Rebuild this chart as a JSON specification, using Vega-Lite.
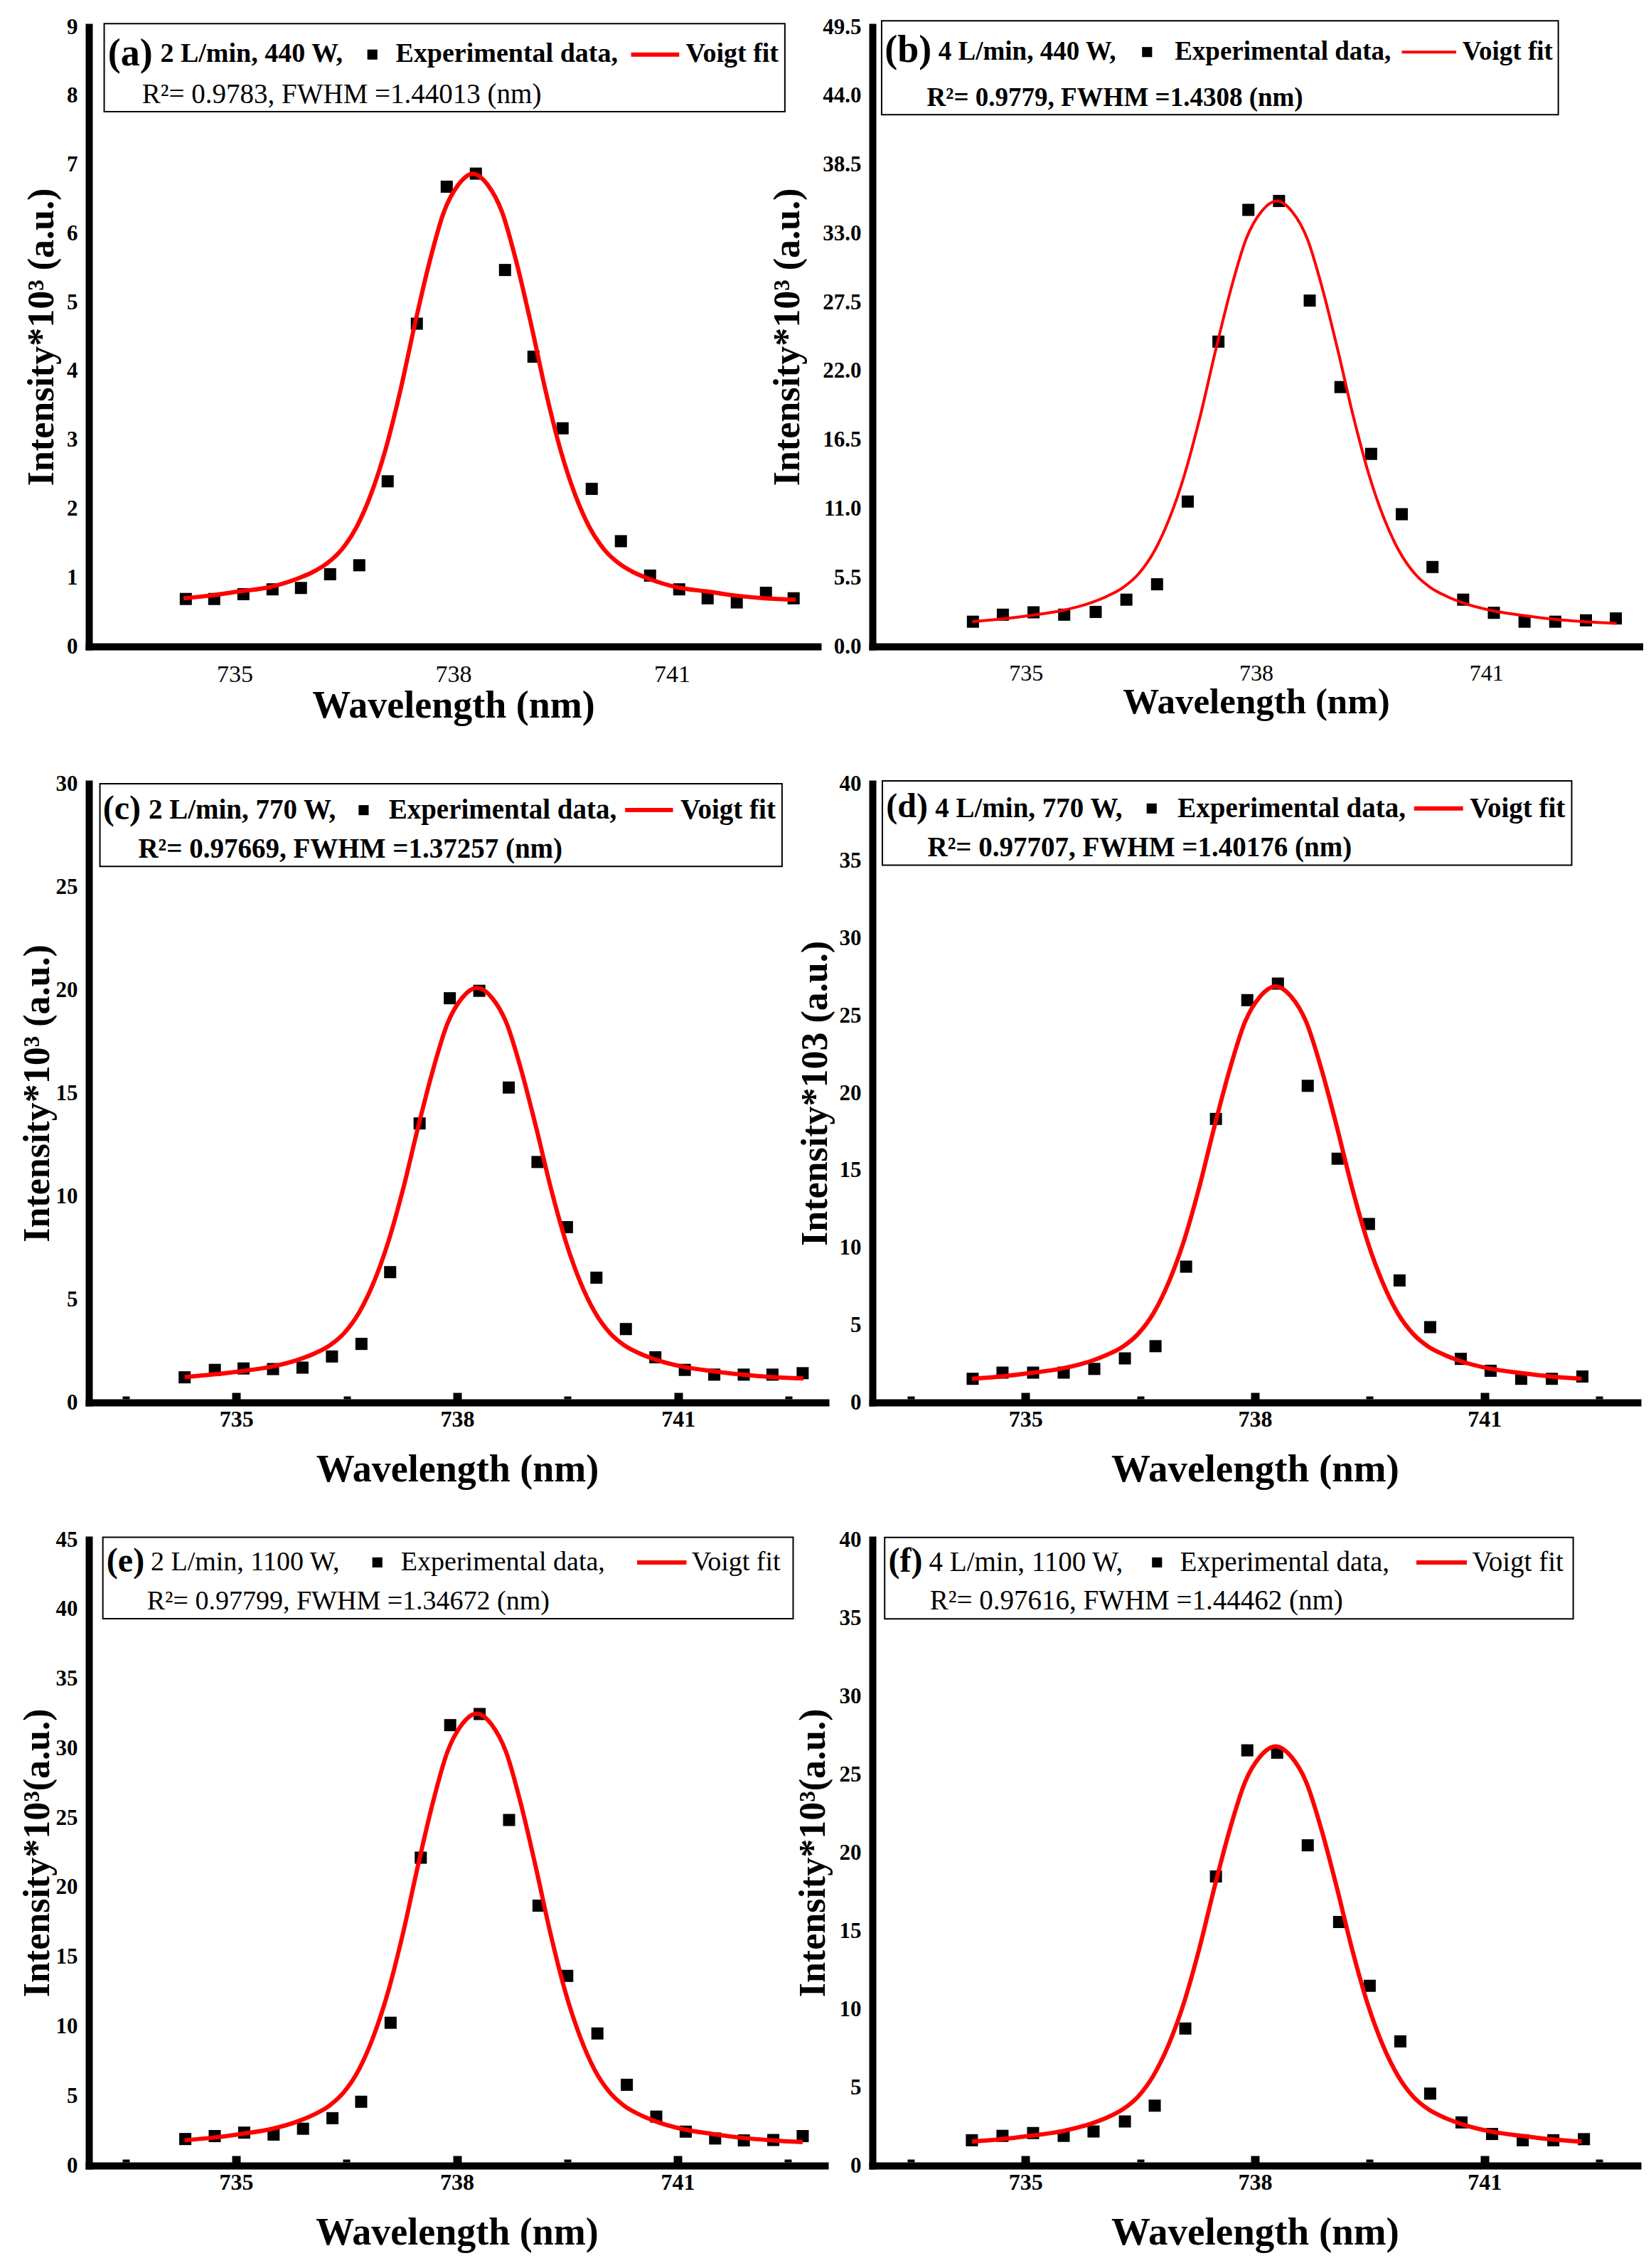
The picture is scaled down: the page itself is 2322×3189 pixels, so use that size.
{
  "$schema": "https://vega.github.io/schema/vega-lite/v6.json",
  "background": "white",
  "padding": {"left": 26, "top": 22, "right": 5, "bottom": 5},
  "config": {
    "view": {"stroke": null},
    "font": "Liberation Serif",
    "text": {"font": "Liberation Serif", "color": "black"},
    "axis": {
      "domainColor": "black", "domainWidth": 10, "domainCap": "square", "grid": false, "ticks": false,
      "labelFont": "Liberation Serif", "labelFontWeight": "bold", "labelColor": "black", "labelOverlap": false,
      "titleFont": "Liberation Serif", "titleFontWeight": "bold", "titleColor": "black"
    }
  },
  "datasets": {
    "box": [
      {"p": "a", "x": 733.21, "x2": 742.55, "y": 7.77, "y2": 9.05},
      {"p": "b", "x": 733.12, "x2": 741.94, "y": 42.5, "y2": 50.0},
      {"p": "c", "x": 733.15, "x2": 742.41, "y": 25.99, "y2": 30.0},
      {"p": "d", "x": 733.13, "x2": 742.14, "y": 34.73, "y2": 40.18},
      {"p": "e", "x": 733.19, "x2": 742.57, "y": 39.33, "y2": 45.18},
      {"p": "f", "x": 733.16, "x2": 742.16, "y": 34.94, "y2": 40.15}
    ],
    "key": [
      {"p": "a", "x": 736.89, "y": 8.6},
      {"p": "b", "x": 736.58, "y": 47.5},
      {"p": "c", "x": 736.73, "y": 28.72},
      {"p": "d", "x": 736.65, "y": 38.4},
      {"p": "e", "x": 736.92, "y": 43.37},
      {"p": "f", "x": 736.72, "y": 38.55}
    ],
    "keyline": [
      {"p": "a", "x": 740.44, "x2": 741.10, "y": 8.6},
      {"p": "b", "x": 739.90, "x2": 740.61, "y": 47.5},
      {"p": "c", "x": 740.28, "x2": 740.93, "y": 28.72},
      {"p": "d", "x": 740.08, "x2": 740.72, "y": 38.4},
      {"p": "e", "x": 740.45, "x2": 741.12, "y": 43.37},
      {"p": "f", "x": 740.11, "x2": 740.77, "y": 38.55}
    ],
    "txt": [
      {"p": "a", "k": "tag", "x": 733.26, "y": 8.61, "t": "(a)"},
      {"p": "a", "k": "head", "x": 733.98, "y": 8.61, "t": "2 L/min, 440 W,"},
      {"p": "a", "k": "head", "x": 737.21, "y": 8.61, "t": "Experimental data,"},
      {"p": "a", "k": "head", "x": 741.19, "y": 8.61, "t": "Voigt fit"},
      {"p": "a", "k": "body", "x": 733.73, "y": 8.02, "t": "R²= 0.9783, FWHM =1.44013 (nm)"},
      {"p": "b", "k": "tag", "x": 733.16, "y": 47.6, "t": "(b)"},
      {"p": "b", "k": "head", "x": 733.86, "y": 47.5, "t": "4 L/min, 440 W,"},
      {"p": "b", "k": "head", "x": 736.94, "y": 47.5, "t": "Experimental data,"},
      {"p": "b", "k": "head", "x": 740.69, "y": 47.5, "t": "Voigt fit"},
      {"p": "b", "k": "body", "x": 733.71, "y": 43.8, "t": "R²= 0.9779, FWHM =1.4308 (nm)"},
      {"p": "c", "k": "tag", "x": 733.19, "y": 28.76, "t": "(c)"},
      {"p": "c", "k": "head", "x": 733.81, "y": 28.72, "t": "2 L/min, 770 W,"},
      {"p": "c", "k": "head", "x": 737.07, "y": 28.72, "t": "Experimental data,"},
      {"p": "c", "k": "head", "x": 741.03, "y": 28.72, "t": "Voigt fit"},
      {"p": "c", "k": "body", "x": 733.67, "y": 26.84, "t": "R²= 0.97669, FWHM =1.37257 (nm)"},
      {"p": "d", "k": "tag", "x": 733.18, "y": 38.46, "t": "(d)"},
      {"p": "d", "k": "head", "x": 733.82, "y": 38.4, "t": "4 L/min, 770 W,"},
      {"p": "d", "k": "head", "x": 736.99, "y": 38.4, "t": "Experimental data,"},
      {"p": "d", "k": "head", "x": 740.81, "y": 38.4, "t": "Voigt fit"},
      {"p": "d", "k": "body", "x": 733.72, "y": 35.86, "t": "R²= 0.97707, FWHM =1.40176 (nm)"},
      {"p": "e", "k": "tag", "x": 733.24, "y": 43.44, "t": "(e)"},
      {"p": "e", "k": "head", "x": 733.84, "y": 43.37, "t": "2 L/min, 1100 W,"},
      {"p": "e", "k": "head", "x": 737.24, "y": 43.37, "t": "Experimental data,"},
      {"p": "e", "k": "head", "x": 741.19, "y": 43.37, "t": "Voigt fit"},
      {"p": "e", "k": "body", "x": 733.79, "y": 40.55, "t": "R²= 0.97799, FWHM =1.34672 (nm)"},
      {"p": "f", "k": "tag", "x": 733.21, "y": 38.61, "t": "(f)"},
      {"p": "f", "k": "head", "x": 733.74, "y": 38.55, "t": "4 L/min, 1100 W,"},
      {"p": "f", "k": "head", "x": 737.02, "y": 38.55, "t": "Experimental data,"},
      {"p": "f", "k": "head", "x": 740.84, "y": 38.55, "t": "Voigt fit"},
      {"p": "f", "k": "body", "x": 733.75, "y": 36.07, "t": "R²= 0.97616, FWHM =1.44462 (nm)"}
    ],
    "exp": [
      {"p": "a", "x": 734.33, "y": 0.69}, {"p": "a", "x": 734.72, "y": 0.69}, {"p": "a", "x": 735.12, "y": 0.76},
      {"p": "a", "x": 735.52, "y": 0.83}, {"p": "a", "x": 735.91, "y": 0.85}, {"p": "a", "x": 736.31, "y": 1.05},
      {"p": "a", "x": 736.71, "y": 1.18}, {"p": "a", "x": 737.10, "y": 2.40}, {"p": "a", "x": 737.50, "y": 4.69},
      {"p": "a", "x": 737.91, "y": 6.68}, {"p": "a", "x": 738.31, "y": 6.87}, {"p": "a", "x": 738.71, "y": 5.47},
      {"p": "a", "x": 739.10, "y": 4.21}, {"p": "a", "x": 739.50, "y": 3.17}, {"p": "a", "x": 739.90, "y": 2.29},
      {"p": "a", "x": 740.30, "y": 1.53}, {"p": "a", "x": 740.70, "y": 1.03}, {"p": "a", "x": 741.10, "y": 0.83},
      {"p": "a", "x": 741.49, "y": 0.70}, {"p": "a", "x": 741.89, "y": 0.64}, {"p": "a", "x": 742.29, "y": 0.78},
      {"p": "a", "x": 742.67, "y": 0.70},
      {"p": "b", "x": 734.31, "y": 1.98}, {"p": "b", "x": 734.70, "y": 2.54}, {"p": "b", "x": 735.10, "y": 2.73},
      {"p": "b", "x": 735.50, "y": 2.54}, {"p": "b", "x": 735.91, "y": 2.76}, {"p": "b", "x": 736.31, "y": 3.74},
      {"p": "b", "x": 736.71, "y": 4.97}, {"p": "b", "x": 737.11, "y": 11.58}, {"p": "b", "x": 737.51, "y": 24.36},
      {"p": "b", "x": 737.90, "y": 34.89}, {"p": "b", "x": 738.30, "y": 35.6}, {"p": "b", "x": 738.70, "y": 27.64},
      {"p": "b", "x": 739.10, "y": 20.73}, {"p": "b", "x": 739.50, "y": 15.39}, {"p": "b", "x": 739.90, "y": 10.57},
      {"p": "b", "x": 740.30, "y": 6.35}, {"p": "b", "x": 740.70, "y": 3.74}, {"p": "b", "x": 741.10, "y": 2.69},
      {"p": "b", "x": 741.50, "y": 1.98}, {"p": "b", "x": 741.90, "y": 1.98}, {"p": "b", "x": 742.30, "y": 2.09},
      {"p": "b", "x": 742.69, "y": 2.24},
      {"p": "c", "x": 734.30, "y": 1.22}, {"p": "c", "x": 734.71, "y": 1.58}, {"p": "c", "x": 735.10, "y": 1.65},
      {"p": "c", "x": 735.50, "y": 1.62}, {"p": "c", "x": 735.90, "y": 1.69}, {"p": "c", "x": 736.30, "y": 2.23},
      {"p": "c", "x": 736.70, "y": 2.84}, {"p": "c", "x": 737.09, "y": 6.32}, {"p": "c", "x": 737.49, "y": 13.53},
      {"p": "c", "x": 737.90, "y": 19.60}, {"p": "c", "x": 738.30, "y": 19.96}, {"p": "c", "x": 738.70, "y": 15.27},
      {"p": "c", "x": 739.09, "y": 11.66}, {"p": "c", "x": 739.49, "y": 8.50}, {"p": "c", "x": 739.89, "y": 6.05},
      {"p": "c", "x": 740.29, "y": 3.56}, {"p": "c", "x": 740.69, "y": 2.19}, {"p": "c", "x": 741.09, "y": 1.58},
      {"p": "c", "x": 741.49, "y": 1.35}, {"p": "c", "x": 741.89, "y": 1.35}, {"p": "c", "x": 742.28, "y": 1.35},
      {"p": "c", "x": 742.69, "y": 1.42},
      {"p": "d", "x": 734.31, "y": 1.53}, {"p": "d", "x": 734.70, "y": 1.93}, {"p": "d", "x": 735.10, "y": 1.93},
      {"p": "d", "x": 735.50, "y": 1.93}, {"p": "d", "x": 735.90, "y": 2.17}, {"p": "d", "x": 736.30, "y": 2.85},
      {"p": "d", "x": 736.70, "y": 3.64}, {"p": "d", "x": 737.10, "y": 8.78}, {"p": "d", "x": 737.49, "y": 18.33},
      {"p": "d", "x": 737.90, "y": 26.01}, {"p": "d", "x": 738.30, "y": 27.08}, {"p": "d", "x": 738.69, "y": 20.47},
      {"p": "d", "x": 739.08, "y": 15.76}, {"p": "d", "x": 739.49, "y": 11.54}, {"p": "d", "x": 739.89, "y": 7.89},
      {"p": "d", "x": 740.29, "y": 4.87}, {"p": "d", "x": 740.69, "y": 2.82}, {"p": "d", "x": 741.08, "y": 2.05},
      {"p": "d", "x": 741.48, "y": 1.53}, {"p": "d", "x": 741.88, "y": 1.53}, {"p": "d", "x": 742.28, "y": 1.68},
      {"p": "e", "x": 734.31, "y": 1.91}, {"p": "e", "x": 734.71, "y": 2.12}, {"p": "e", "x": 735.11, "y": 2.37},
      {"p": "e", "x": 735.51, "y": 2.23}, {"p": "e", "x": 735.91, "y": 2.65}, {"p": "e", "x": 736.31, "y": 3.41},
      {"p": "e", "x": 736.70, "y": 4.59}, {"p": "e", "x": 737.10, "y": 10.27}, {"p": "e", "x": 737.51, "y": 22.14},
      {"p": "e", "x": 737.91, "y": 31.67}, {"p": "e", "x": 738.31, "y": 32.47}, {"p": "e", "x": 738.71, "y": 24.85},
      {"p": "e", "x": 739.11, "y": 18.69}, {"p": "e", "x": 739.50, "y": 13.64}, {"p": "e", "x": 739.91, "y": 9.50},
      {"p": "e", "x": 740.31, "y": 5.81}, {"p": "e", "x": 740.71, "y": 3.52}, {"p": "e", "x": 741.11, "y": 2.44},
      {"p": "e", "x": 741.51, "y": 1.95}, {"p": "e", "x": 741.90, "y": 1.81}, {"p": "e", "x": 742.30, "y": 1.84},
      {"p": "e", "x": 742.70, "y": 2.12},
      {"p": "f", "x": 734.30, "y": 1.62}, {"p": "f", "x": 734.70, "y": 1.90}, {"p": "f", "x": 735.10, "y": 2.08},
      {"p": "f", "x": 735.50, "y": 1.90}, {"p": "f", "x": 735.89, "y": 2.18}, {"p": "f", "x": 736.30, "y": 2.82},
      {"p": "f", "x": 736.69, "y": 3.83}, {"p": "f", "x": 737.09, "y": 8.76}, {"p": "f", "x": 737.49, "y": 18.48},
      {"p": "f", "x": 737.90, "y": 26.54}, {"p": "f", "x": 738.29, "y": 26.39}, {"p": "f", "x": 738.69, "y": 20.47},
      {"p": "f", "x": 739.10, "y": 15.57}, {"p": "f", "x": 739.50, "y": 11.49}, {"p": "f", "x": 739.90, "y": 7.94},
      {"p": "f", "x": 740.29, "y": 4.60}, {"p": "f", "x": 740.70, "y": 2.76}, {"p": "f", "x": 741.10, "y": 2.02},
      {"p": "f", "x": 741.50, "y": 1.62}, {"p": "f", "x": 741.90, "y": 1.62}, {"p": "f", "x": 742.30, "y": 1.69}
    ],
    "fit": [
      {"p": "a", "x": 734.3, "y": 0.70}, {"p": "a", "x": 734.67, "y": 0.74}, {"p": "a", "x": 735.07, "y": 0.80},
      {"p": "a", "x": 735.47, "y": 0.86}, {"p": "a", "x": 735.87, "y": 0.99}, {"p": "a", "x": 736.07, "y": 1.08},
      {"p": "a", "x": 736.27, "y": 1.21}, {"p": "a", "x": 736.47, "y": 1.41}, {"p": "a", "x": 736.67, "y": 1.73},
      {"p": "a", "x": 736.87, "y": 2.21}, {"p": "a", "x": 737.07, "y": 2.86}, {"p": "a", "x": 737.27, "y": 3.70},
      {"p": "a", "x": 737.47, "y": 4.67}, {"p": "a", "x": 737.67, "y": 5.57}, {"p": "a", "x": 737.87, "y": 6.31},
      {"p": "a", "x": 738.07, "y": 6.71}, {"p": "a", "x": 738.27, "y": 6.87}, {"p": "a", "x": 738.47, "y": 6.71},
      {"p": "a", "x": 738.67, "y": 6.31}, {"p": "a", "x": 738.87, "y": 5.57}, {"p": "a", "x": 739.07, "y": 4.67},
      {"p": "a", "x": 739.27, "y": 3.70}, {"p": "a", "x": 739.47, "y": 2.86}, {"p": "a", "x": 739.67, "y": 2.21},
      {"p": "a", "x": 739.87, "y": 1.73}, {"p": "a", "x": 740.07, "y": 1.41}, {"p": "a", "x": 740.27, "y": 1.21},
      {"p": "a", "x": 740.47, "y": 1.08}, {"p": "a", "x": 740.67, "y": 0.99}, {"p": "a", "x": 741.07, "y": 0.86},
      {"p": "a", "x": 741.47, "y": 0.80}, {"p": "a", "x": 741.87, "y": 0.74}, {"p": "a", "x": 742.27, "y": 0.70},
      {"p": "a", "x": 742.7, "y": 0.68},
      {"p": "b", "x": 734.3, "y": 1.99}, {"p": "b", "x": 734.67, "y": 2.19}, {"p": "b", "x": 735.07, "y": 2.49},
      {"p": "b", "x": 735.47, "y": 2.87}, {"p": "b", "x": 735.87, "y": 3.54}, {"p": "b", "x": 736.07, "y": 4.05},
      {"p": "b", "x": 736.27, "y": 4.73}, {"p": "b", "x": 736.47, "y": 5.81}, {"p": "b", "x": 736.67, "y": 7.57},
      {"p": "b", "x": 736.87, "y": 10.21}, {"p": "b", "x": 737.07, "y": 13.77}, {"p": "b", "x": 737.27, "y": 18.34},
      {"p": "b", "x": 737.47, "y": 23.58}, {"p": "b", "x": 737.67, "y": 28.49}, {"p": "b", "x": 737.87, "y": 32.55},
      {"p": "b", "x": 738.07, "y": 34.75}, {"p": "b", "x": 738.27, "y": 35.6}, {"p": "b", "x": 738.47, "y": 34.75},
      {"p": "b", "x": 738.67, "y": 32.55}, {"p": "b", "x": 738.87, "y": 28.49}, {"p": "b", "x": 739.07, "y": 23.58},
      {"p": "b", "x": 739.27, "y": 18.34}, {"p": "b", "x": 739.47, "y": 13.77}, {"p": "b", "x": 739.67, "y": 10.21},
      {"p": "b", "x": 739.87, "y": 7.57}, {"p": "b", "x": 740.07, "y": 5.81}, {"p": "b", "x": 740.27, "y": 4.73},
      {"p": "b", "x": 740.47, "y": 4.05}, {"p": "b", "x": 740.67, "y": 3.54}, {"p": "b", "x": 741.07, "y": 2.87},
      {"p": "b", "x": 741.47, "y": 2.49}, {"p": "b", "x": 741.87, "y": 2.19}, {"p": "b", "x": 742.27, "y": 1.99},
      {"p": "b", "x": 742.7, "y": 1.85},
      {"p": "c", "x": 734.3, "y": 1.23}, {"p": "c", "x": 734.67, "y": 1.35}, {"p": "c", "x": 735.07, "y": 1.52},
      {"p": "c", "x": 735.47, "y": 1.73}, {"p": "c", "x": 735.87, "y": 2.11}, {"p": "c", "x": 736.07, "y": 2.39},
      {"p": "c", "x": 736.27, "y": 2.77}, {"p": "c", "x": 736.47, "y": 3.38}, {"p": "c", "x": 736.67, "y": 4.37},
      {"p": "c", "x": 736.87, "y": 5.85}, {"p": "c", "x": 737.07, "y": 7.85}, {"p": "c", "x": 737.27, "y": 10.41},
      {"p": "c", "x": 737.47, "y": 13.36}, {"p": "c", "x": 737.67, "y": 16.11}, {"p": "c", "x": 737.87, "y": 18.39},
      {"p": "c", "x": 738.07, "y": 19.63}, {"p": "c", "x": 738.27, "y": 20.1}, {"p": "c", "x": 738.47, "y": 19.63},
      {"p": "c", "x": 738.67, "y": 18.39}, {"p": "c", "x": 738.87, "y": 16.11}, {"p": "c", "x": 739.07, "y": 13.36},
      {"p": "c", "x": 739.27, "y": 10.41}, {"p": "c", "x": 739.47, "y": 7.85}, {"p": "c", "x": 739.67, "y": 5.85},
      {"p": "c", "x": 739.87, "y": 4.37}, {"p": "c", "x": 740.07, "y": 3.38}, {"p": "c", "x": 740.27, "y": 2.77},
      {"p": "c", "x": 740.47, "y": 2.39}, {"p": "c", "x": 740.67, "y": 2.11}, {"p": "c", "x": 741.07, "y": 1.73},
      {"p": "c", "x": 741.47, "y": 1.52}, {"p": "c", "x": 741.87, "y": 1.35}, {"p": "c", "x": 742.27, "y": 1.23},
      {"p": "c", "x": 742.7, "y": 1.16},
      {"p": "d", "x": 734.3, "y": 1.53}, {"p": "d", "x": 734.67, "y": 1.68}, {"p": "d", "x": 735.07, "y": 1.91},
      {"p": "d", "x": 735.47, "y": 2.19}, {"p": "d", "x": 735.87, "y": 2.70}, {"p": "d", "x": 736.07, "y": 3.09},
      {"p": "d", "x": 736.27, "y": 3.60}, {"p": "d", "x": 736.47, "y": 4.42}, {"p": "d", "x": 736.67, "y": 5.74},
      {"p": "d", "x": 736.87, "y": 7.74}, {"p": "d", "x": 737.07, "y": 10.42}, {"p": "d", "x": 737.27, "y": 13.87},
      {"p": "d", "x": 737.47, "y": 17.83}, {"p": "d", "x": 737.67, "y": 21.53}, {"p": "d", "x": 737.87, "y": 24.60},
      {"p": "d", "x": 738.07, "y": 26.26}, {"p": "d", "x": 738.27, "y": 26.9}, {"p": "d", "x": 738.47, "y": 26.26},
      {"p": "d", "x": 738.67, "y": 24.60}, {"p": "d", "x": 738.87, "y": 21.53}, {"p": "d", "x": 739.07, "y": 17.83},
      {"p": "d", "x": 739.27, "y": 13.87}, {"p": "d", "x": 739.47, "y": 10.42}, {"p": "d", "x": 739.67, "y": 7.74},
      {"p": "d", "x": 739.87, "y": 5.74}, {"p": "d", "x": 740.07, "y": 4.42}, {"p": "d", "x": 740.27, "y": 3.60},
      {"p": "d", "x": 740.47, "y": 3.09}, {"p": "d", "x": 740.67, "y": 2.70}, {"p": "d", "x": 741.07, "y": 2.19},
      {"p": "d", "x": 741.47, "y": 1.91}, {"p": "d", "x": 741.87, "y": 1.68}, {"p": "d", "x": 742.27, "y": 1.53},
      {"p": "e", "x": 734.3, "y": 1.82}, {"p": "e", "x": 734.67, "y": 2.00}, {"p": "e", "x": 735.07, "y": 2.28},
      {"p": "e", "x": 735.47, "y": 2.62}, {"p": "e", "x": 735.87, "y": 3.24}, {"p": "e", "x": 736.07, "y": 3.70},
      {"p": "e", "x": 736.27, "y": 4.32}, {"p": "e", "x": 736.47, "y": 5.31}, {"p": "e", "x": 736.67, "y": 6.91},
      {"p": "e", "x": 736.87, "y": 9.33}, {"p": "e", "x": 737.07, "y": 12.57}, {"p": "e", "x": 737.27, "y": 16.74},
      {"p": "e", "x": 737.47, "y": 21.53}, {"p": "e", "x": 737.67, "y": 26.01}, {"p": "e", "x": 737.87, "y": 29.72},
      {"p": "e", "x": 738.07, "y": 31.73}, {"p": "e", "x": 738.27, "y": 32.5}, {"p": "e", "x": 738.47, "y": 31.73},
      {"p": "e", "x": 738.67, "y": 29.72}, {"p": "e", "x": 738.87, "y": 26.01}, {"p": "e", "x": 739.07, "y": 21.53},
      {"p": "e", "x": 739.27, "y": 16.74}, {"p": "e", "x": 739.47, "y": 12.57}, {"p": "e", "x": 739.67, "y": 9.33},
      {"p": "e", "x": 739.87, "y": 6.91}, {"p": "e", "x": 740.07, "y": 5.31}, {"p": "e", "x": 740.27, "y": 4.32},
      {"p": "e", "x": 740.47, "y": 3.70}, {"p": "e", "x": 740.67, "y": 3.24}, {"p": "e", "x": 741.07, "y": 2.62},
      {"p": "e", "x": 741.47, "y": 2.28}, {"p": "e", "x": 741.87, "y": 2.00}, {"p": "e", "x": 742.27, "y": 1.82},
      {"p": "e", "x": 742.7, "y": 1.69},
      {"p": "f", "x": 734.3, "y": 1.53}, {"p": "f", "x": 734.67, "y": 1.68}, {"p": "f", "x": 735.07, "y": 1.91},
      {"p": "f", "x": 735.47, "y": 2.19}, {"p": "f", "x": 735.87, "y": 2.70}, {"p": "f", "x": 736.07, "y": 3.08},
      {"p": "f", "x": 736.27, "y": 3.59}, {"p": "f", "x": 736.47, "y": 4.40}, {"p": "f", "x": 736.67, "y": 5.73},
      {"p": "f", "x": 736.87, "y": 7.71}, {"p": "f", "x": 737.07, "y": 10.38}, {"p": "f", "x": 737.27, "y": 13.82},
      {"p": "f", "x": 737.47, "y": 17.77}, {"p": "f", "x": 737.67, "y": 21.46}, {"p": "f", "x": 737.87, "y": 24.51},
      {"p": "f", "x": 738.07, "y": 26.16}, {"p": "f", "x": 738.27, "y": 26.8}, {"p": "f", "x": 738.47, "y": 26.16},
      {"p": "f", "x": 738.67, "y": 24.51}, {"p": "f", "x": 738.87, "y": 21.46}, {"p": "f", "x": 739.07, "y": 17.77},
      {"p": "f", "x": 739.27, "y": 13.82}, {"p": "f", "x": 739.47, "y": 10.38}, {"p": "f", "x": 739.67, "y": 7.71},
      {"p": "f", "x": 739.87, "y": 5.73}, {"p": "f", "x": 740.07, "y": 4.40}, {"p": "f", "x": 740.27, "y": 3.59},
      {"p": "f", "x": 740.47, "y": 3.08}, {"p": "f", "x": 740.67, "y": 2.70}, {"p": "f", "x": 741.07, "y": 2.19},
      {"p": "f", "x": 741.47, "y": 1.91}, {"p": "f", "x": 741.87, "y": 1.68}, {"p": "f", "x": 742.27, "y": 1.53}
    ]
  },
  "columns": 2,
  "spacing": {"row": 193, "column": 66},
  "bounds": "flush",
  "concat": [
    {
      "width": 1025, "height": 871,
      "layer": [
        {"data": {"name": "box"}, "transform": [{"filter": "datum.p === 'a'"}],
         "mark": {"type": "rect", "fill": "white", "stroke": "black", "strokeWidth": 2},
         "encoding": {
           "x": {"field": "x", "type": "quantitative", "scale": {"domain": [733, 743], "nice": false, "zero": false},
                 "axis": {"title": "Wavelength (nm)", "values": [735, 738, 741], "format": "d", "labelFontSize": 34, "labelFontWeight": "normal", "labelPadding": 22, "titleFontSize": 54, "titlePadding": 0}},
           "x2": {"field": "x2"},
           "y": {"field": "y", "type": "quantitative", "scale": {"domain": [0, 9], "nice": false, "zero": false},
                 "axis": {"title": "Intensity*10³ (a.u.)", "values": [0, 1, 2, 3, 4, 5, 6, 7, 8, 9], "format": "d", "labelFontSize": 31, "labelPadding": 16, "titleFontSize": 52, "titlePadding": 8}},
           "y2": {"field": "y2"}}},
        {"data": {"name": "exp"}, "transform": [{"filter": "datum.p === 'a'"}],
         "mark": {"type": "point", "shape": "square", "filled": true, "color": "black", "opacity": 1, "size": 290},
         "encoding": {"x": {"field": "x", "type": "quantitative"}, "y": {"field": "y", "type": "quantitative"}}},
        {"data": {"name": "fit"}, "transform": [{"filter": "datum.p === 'a'"}],
         "mark": {"type": "line", "color": "red", "strokeWidth": 6, "interpolate": "monotone"},
         "encoding": {"x": {"field": "x", "type": "quantitative"}, "y": {"field": "y", "type": "quantitative"}}},
        {"data": {"name": "txt"}, "transform": [{"filter": "datum.p === 'a' && datum.k === 'tag'"}],
         "mark": {"type": "text", "align": "left", "baseline": "middle", "fontSize": 54, "fontWeight": "bold"},
         "encoding": {"x": {"field": "x", "type": "quantitative"}, "y": {"field": "y", "type": "quantitative"}, "text": {"field": "t"}}},
        {"data": {"name": "txt"}, "transform": [{"filter": "datum.p === 'a' && datum.k === 'head'"}],
         "mark": {"type": "text", "align": "left", "baseline": "middle", "fontSize": 38, "fontWeight": "bold"},
         "encoding": {"x": {"field": "x", "type": "quantitative"}, "y": {"field": "y", "type": "quantitative"}, "text": {"field": "t"}}},
        {"data": {"name": "txt"}, "transform": [{"filter": "datum.p === 'a' && datum.k === 'body'"}],
         "mark": {"type": "text", "align": "left", "baseline": "middle", "fontSize": 39, "fontWeight": "normal"},
         "encoding": {"x": {"field": "x", "type": "quantitative"}, "y": {"field": "y", "type": "quantitative"}, "text": {"field": "t"}}},
        {"data": {"name": "key"}, "transform": [{"filter": "datum.p === 'a'"}],
         "mark": {"type": "point", "shape": "square", "filled": true, "color": "black", "opacity": 1, "size": 200},
         "encoding": {"x": {"field": "x", "type": "quantitative"}, "y": {"field": "y", "type": "quantitative"}}},
        {"data": {"name": "keyline"}, "transform": [{"filter": "datum.p === 'a'"}],
         "mark": {"type": "rule", "color": "red", "strokeWidth": 6},
         "encoding": {"x": {"field": "x", "type": "quantitative"}, "x2": {"field": "x2"}, "y": {"field": "y", "type": "quantitative"}}}
      ]
    },
    {
      "width": 1079, "height": 871,
      "layer": [
        {"data": {"name": "box"}, "transform": [{"filter": "datum.p === 'b'"}],
         "mark": {"type": "rect", "fill": "white", "stroke": "black", "strokeWidth": 2},
         "encoding": {
           "x": {"field": "x", "type": "quantitative", "scale": {"domain": [733, 743], "nice": false, "zero": false},
                 "axis": {"title": "Wavelength (nm)", "values": [735, 738, 741], "format": "d", "labelFontSize": 32, "labelFontWeight": "normal", "labelPadding": 22, "titleFontSize": 51, "titlePadding": 0}},
           "x2": {"field": "x2"},
           "y": {"field": "y", "type": "quantitative", "scale": {"domain": [0, 49.5], "nice": false, "zero": false},
                 "axis": {"title": "Intensity*10³ (a.u.)", "values": [0, 5.5, 11, 16.5, 22, 27.5, 33, 38.5, 44, 49.5], "format": ".1f", "labelFontSize": 31, "labelPadding": 16, "titleFontSize": 52, "titlePadding": 22}},
           "y2": {"field": "y2"}}},
        {"data": {"name": "exp"}, "transform": [{"filter": "datum.p === 'b'"}],
         "mark": {"type": "point", "shape": "square", "filled": true, "color": "black", "opacity": 1, "size": 290},
         "encoding": {"x": {"field": "x", "type": "quantitative"}, "y": {"field": "y", "type": "quantitative"}}},
        {"data": {"name": "fit"}, "transform": [{"filter": "datum.p === 'b'"}],
         "mark": {"type": "line", "color": "red", "strokeWidth": 4, "interpolate": "monotone"},
         "encoding": {"x": {"field": "x", "type": "quantitative"}, "y": {"field": "y", "type": "quantitative"}}},
        {"data": {"name": "txt"}, "transform": [{"filter": "datum.p === 'b' && datum.k === 'tag'"}],
         "mark": {"type": "text", "align": "left", "baseline": "middle", "fontSize": 54, "fontWeight": "bold"},
         "encoding": {"x": {"field": "x", "type": "quantitative"}, "y": {"field": "y", "type": "quantitative"}, "text": {"field": "t"}}},
        {"data": {"name": "txt"}, "transform": [{"filter": "datum.p === 'b' && datum.k === 'head'"}],
         "mark": {"type": "text", "align": "left", "baseline": "middle", "fontSize": 37, "fontWeight": "bold"},
         "encoding": {"x": {"field": "x", "type": "quantitative"}, "y": {"field": "y", "type": "quantitative"}, "text": {"field": "t"}}},
        {"data": {"name": "txt"}, "transform": [{"filter": "datum.p === 'b' && datum.k === 'body'"}],
         "mark": {"type": "text", "align": "left", "baseline": "middle", "fontSize": 37, "fontWeight": "bold"},
         "encoding": {"x": {"field": "x", "type": "quantitative"}, "y": {"field": "y", "type": "quantitative"}, "text": {"field": "t"}}},
        {"data": {"name": "key"}, "transform": [{"filter": "datum.p === 'b'"}],
         "mark": {"type": "point", "shape": "square", "filled": true, "color": "black", "opacity": 1, "size": 200},
         "encoding": {"x": {"field": "x", "type": "quantitative"}, "y": {"field": "y", "type": "quantitative"}}},
        {"data": {"name": "keyline"}, "transform": [{"filter": "datum.p === 'b'"}],
         "mark": {"type": "rule", "color": "red", "strokeWidth": 4},
         "encoding": {"x": {"field": "x", "type": "quantitative"}, "x2": {"field": "x2"}, "y": {"field": "y", "type": "quantitative"}}}
      ]
    },
    {
      "width": 1036, "height": 870,
      "layer": [
        {"data": {"name": "box"}, "transform": [{"filter": "datum.p === 'c'"}],
         "mark": {"type": "rect", "fill": "white", "stroke": "black", "strokeWidth": 2},
         "encoding": {
           "x": {"field": "x", "type": "quantitative", "scale": {"domain": [733, 743], "nice": false, "zero": false},
                 "axis": {"title": "Wavelength (nm)", "values": [733.5, 735, 736.5, 738, 739.5, 741, 742.5], "format": "d", "labelExpr": "datum.value % 3 === 0 ? datum.label : ''", "ticks": true, "tickColor": "black", "tickSize": -14, "tickWidth": {"condition": {"test": "datum.value % 3 === 0", "value": 12}, "value": 10}, "tickDash": {"condition": {"test": "datum.value % 3 !== 0", "value": [0, 5, 4, 60]}, "value": [100, 0]}, "labelFontSize": 32, "labelPadding": 22, "titleFontSize": 54, "titlePadding": 28}},
           "x2": {"field": "x2"},
           "y": {"field": "y", "type": "quantitative", "scale": {"domain": [0, 30], "nice": false, "zero": false},
                 "axis": {"title": "Intensity*10³ (a.u.)", "values": [0, 5, 10, 15, 20, 25, 30], "format": "d", "labelFontSize": 31, "labelPadding": 16, "titleFontSize": 52, "titlePadding": -1}},
           "y2": {"field": "y2"}}},
        {"data": {"name": "exp"}, "transform": [{"filter": "datum.p === 'c'"}],
         "mark": {"type": "point", "shape": "square", "filled": true, "color": "black", "opacity": 1, "size": 290},
         "encoding": {"x": {"field": "x", "type": "quantitative"}, "y": {"field": "y", "type": "quantitative"}}},
        {"data": {"name": "fit"}, "transform": [{"filter": "datum.p === 'c'"}],
         "mark": {"type": "line", "color": "red", "strokeWidth": 6, "interpolate": "monotone"},
         "encoding": {"x": {"field": "x", "type": "quantitative"}, "y": {"field": "y", "type": "quantitative"}}},
        {"data": {"name": "txt"}, "transform": [{"filter": "datum.p === 'c' && datum.k === 'tag'"}],
         "mark": {"type": "text", "align": "left", "baseline": "middle", "fontSize": 48, "fontWeight": "bold"},
         "encoding": {"x": {"field": "x", "type": "quantitative"}, "y": {"field": "y", "type": "quantitative"}, "text": {"field": "t"}}},
        {"data": {"name": "txt"}, "transform": [{"filter": "datum.p === 'c' && datum.k === 'head'"}],
         "mark": {"type": "text", "align": "left", "baseline": "middle", "fontSize": 39, "fontWeight": "bold"},
         "encoding": {"x": {"field": "x", "type": "quantitative"}, "y": {"field": "y", "type": "quantitative"}, "text": {"field": "t"}}},
        {"data": {"name": "txt"}, "transform": [{"filter": "datum.p === 'c' && datum.k === 'body'"}],
         "mark": {"type": "text", "align": "left", "baseline": "middle", "fontSize": 39, "fontWeight": "bold"},
         "encoding": {"x": {"field": "x", "type": "quantitative"}, "y": {"field": "y", "type": "quantitative"}, "text": {"field": "t"}}},
        {"data": {"name": "key"}, "transform": [{"filter": "datum.p === 'c'"}],
         "mark": {"type": "point", "shape": "square", "filled": true, "color": "black", "opacity": 1, "size": 200},
         "encoding": {"x": {"field": "x", "type": "quantitative"}, "y": {"field": "y", "type": "quantitative"}}},
        {"data": {"name": "keyline"}, "transform": [{"filter": "datum.p === 'c'"}],
         "mark": {"type": "rule", "color": "red", "strokeWidth": 6},
         "encoding": {"x": {"field": "x", "type": "quantitative"}, "x2": {"field": "x2"}, "y": {"field": "y", "type": "quantitative"}}}
      ]
    },
    {
      "width": 1076, "height": 870,
      "layer": [
        {"data": {"name": "box"}, "transform": [{"filter": "datum.p === 'd'"}],
         "mark": {"type": "rect", "fill": "white", "stroke": "black", "strokeWidth": 2},
         "encoding": {
           "x": {"field": "x", "type": "quantitative", "scale": {"domain": [733, 743], "nice": false, "zero": false},
                 "axis": {"title": "Wavelength (nm)", "values": [733.5, 735, 736.5, 738, 739.5, 741, 742.5], "format": "d", "labelExpr": "datum.value % 3 === 0 ? datum.label : ''", "ticks": true, "tickColor": "black", "tickSize": -14, "tickWidth": {"condition": {"test": "datum.value % 3 === 0", "value": 12}, "value": 10}, "tickDash": {"condition": {"test": "datum.value % 3 !== 0", "value": [0, 5, 4, 60]}, "value": [100, 0]}, "labelFontSize": 32, "labelPadding": 22, "titleFontSize": 55, "titlePadding": 28}},
           "x2": {"field": "x2"},
           "y": {"field": "y", "type": "quantitative", "scale": {"domain": [0, 40], "nice": false, "zero": false},
                 "axis": {"title": "Intensity*103 (a.u.)", "values": [0, 5, 10, 15, 20, 25, 30, 35, 40], "format": "d", "labelFontSize": 31, "labelPadding": 16, "titleFontSize": 52, "titlePadding": 7}},
           "y2": {"field": "y2"}}},
        {"data": {"name": "exp"}, "transform": [{"filter": "datum.p === 'd'"}],
         "mark": {"type": "point", "shape": "square", "filled": true, "color": "black", "opacity": 1, "size": 290},
         "encoding": {"x": {"field": "x", "type": "quantitative"}, "y": {"field": "y", "type": "quantitative"}}},
        {"data": {"name": "fit"}, "transform": [{"filter": "datum.p === 'd'"}],
         "mark": {"type": "line", "color": "red", "strokeWidth": 6, "interpolate": "monotone"},
         "encoding": {"x": {"field": "x", "type": "quantitative"}, "y": {"field": "y", "type": "quantitative"}}},
        {"data": {"name": "txt"}, "transform": [{"filter": "datum.p === 'd' && datum.k === 'tag'"}],
         "mark": {"type": "text", "align": "left", "baseline": "middle", "fontSize": 48, "fontWeight": "bold"},
         "encoding": {"x": {"field": "x", "type": "quantitative"}, "y": {"field": "y", "type": "quantitative"}, "text": {"field": "t"}}},
        {"data": {"name": "txt"}, "transform": [{"filter": "datum.p === 'd' && datum.k === 'head'"}],
         "mark": {"type": "text", "align": "left", "baseline": "middle", "fontSize": 39, "fontWeight": "bold"},
         "encoding": {"x": {"field": "x", "type": "quantitative"}, "y": {"field": "y", "type": "quantitative"}, "text": {"field": "t"}}},
        {"data": {"name": "txt"}, "transform": [{"filter": "datum.p === 'd' && datum.k === 'body'"}],
         "mark": {"type": "text", "align": "left", "baseline": "middle", "fontSize": 39, "fontWeight": "bold"},
         "encoding": {"x": {"field": "x", "type": "quantitative"}, "y": {"field": "y", "type": "quantitative"}, "text": {"field": "t"}}},
        {"data": {"name": "key"}, "transform": [{"filter": "datum.p === 'd'"}],
         "mark": {"type": "point", "shape": "square", "filled": true, "color": "black", "opacity": 1, "size": 200},
         "encoding": {"x": {"field": "x", "type": "quantitative"}, "y": {"field": "y", "type": "quantitative"}}},
        {"data": {"name": "keyline"}, "transform": [{"filter": "datum.p === 'd'"}],
         "mark": {"type": "rule", "color": "red", "strokeWidth": 6},
         "encoding": {"x": {"field": "x", "type": "quantitative"}, "x2": {"field": "x2"}, "y": {"field": "y", "type": "quantitative"}}}
      ]
    },
    {
      "width": 1035, "height": 880,
      "layer": [
        {"data": {"name": "box"}, "transform": [{"filter": "datum.p === 'e'"}],
         "mark": {"type": "rect", "fill": "white", "stroke": "black", "strokeWidth": 2},
         "encoding": {
           "x": {"field": "x", "type": "quantitative", "scale": {"domain": [733, 743], "nice": false, "zero": false},
                 "axis": {"title": "Wavelength (nm)", "values": [733.5, 735, 736.5, 738, 739.5, 741, 742.5], "format": "d", "labelExpr": "datum.value % 3 === 0 ? datum.label : ''", "ticks": true, "tickColor": "black", "tickSize": -14, "tickWidth": {"condition": {"test": "datum.value % 3 === 0", "value": 12}, "value": 10}, "tickDash": {"condition": {"test": "datum.value % 3 !== 0", "value": [0, 5, 4, 60]}, "value": [100, 0]}, "labelFontSize": 32, "labelPadding": 22, "titleFontSize": 54, "titlePadding": 28}},
           "x2": {"field": "x2"},
           "y": {"field": "y", "type": "quantitative", "scale": {"domain": [0, 45], "nice": false, "zero": false},
                 "axis": {"title": "Intensity*10³(a.u.)", "values": [0, 5, 10, 15, 20, 25, 30, 35, 40, 45], "format": "d", "labelFontSize": 31, "labelPadding": 16, "titleFontSize": 52, "titlePadding": -1}},
           "y2": {"field": "y2"}}},
        {"data": {"name": "exp"}, "transform": [{"filter": "datum.p === 'e'"}],
         "mark": {"type": "point", "shape": "square", "filled": true, "color": "black", "opacity": 1, "size": 290},
         "encoding": {"x": {"field": "x", "type": "quantitative"}, "y": {"field": "y", "type": "quantitative"}}},
        {"data": {"name": "fit"}, "transform": [{"filter": "datum.p === 'e'"}],
         "mark": {"type": "line", "color": "red", "strokeWidth": 6, "interpolate": "monotone"},
         "encoding": {"x": {"field": "x", "type": "quantitative"}, "y": {"field": "y", "type": "quantitative"}}},
        {"data": {"name": "txt"}, "transform": [{"filter": "datum.p === 'e' && datum.k === 'tag'"}],
         "mark": {"type": "text", "align": "left", "baseline": "middle", "fontSize": 48, "fontWeight": "bold"},
         "encoding": {"x": {"field": "x", "type": "quantitative"}, "y": {"field": "y", "type": "quantitative"}, "text": {"field": "t"}}},
        {"data": {"name": "txt"}, "transform": [{"filter": "datum.p === 'e' && datum.k === 'head'"}],
         "mark": {"type": "text", "align": "left", "baseline": "middle", "fontSize": 38, "fontWeight": "normal"},
         "encoding": {"x": {"field": "x", "type": "quantitative"}, "y": {"field": "y", "type": "quantitative"}, "text": {"field": "t"}}},
        {"data": {"name": "txt"}, "transform": [{"filter": "datum.p === 'e' && datum.k === 'body'"}],
         "mark": {"type": "text", "align": "left", "baseline": "middle", "fontSize": 38, "fontWeight": "normal"},
         "encoding": {"x": {"field": "x", "type": "quantitative"}, "y": {"field": "y", "type": "quantitative"}, "text": {"field": "t"}}},
        {"data": {"name": "key"}, "transform": [{"filter": "datum.p === 'e'"}],
         "mark": {"type": "point", "shape": "square", "filled": true, "color": "black", "opacity": 1, "size": 200},
         "encoding": {"x": {"field": "x", "type": "quantitative"}, "y": {"field": "y", "type": "quantitative"}}},
        {"data": {"name": "keyline"}, "transform": [{"filter": "datum.p === 'e'"}],
         "mark": {"type": "rule", "color": "red", "strokeWidth": 6},
         "encoding": {"x": {"field": "x", "type": "quantitative"}, "x2": {"field": "x2"}, "y": {"field": "y", "type": "quantitative"}}}
      ]
    },
    {
      "width": 1076, "height": 880,
      "layer": [
        {"data": {"name": "box"}, "transform": [{"filter": "datum.p === 'f'"}],
         "mark": {"type": "rect", "fill": "white", "stroke": "black", "strokeWidth": 2},
         "encoding": {
           "x": {"field": "x", "type": "quantitative", "scale": {"domain": [733, 743], "nice": false, "zero": false},
                 "axis": {"title": "Wavelength (nm)", "values": [733.5, 735, 736.5, 738, 739.5, 741, 742.5], "format": "d", "labelExpr": "datum.value % 3 === 0 ? datum.label : ''", "ticks": true, "tickColor": "black", "tickSize": -14, "tickWidth": {"condition": {"test": "datum.value % 3 === 0", "value": 12}, "value": 10}, "tickDash": {"condition": {"test": "datum.value % 3 !== 0", "value": [0, 5, 4, 60]}, "value": [100, 0]}, "labelFontSize": 32, "labelPadding": 22, "titleFontSize": 55, "titlePadding": 28}},
           "x2": {"field": "x2"},
           "y": {"field": "y", "type": "quantitative", "scale": {"domain": [0, 40], "nice": false, "zero": false},
                 "axis": {"title": "Intensity*10³(a.u.)", "values": [0, 5, 10, 15, 20, 25, 30, 35, 40], "format": "d", "labelFontSize": 31, "labelPadding": 16, "titleFontSize": 52, "titlePadding": 10}},
           "y2": {"field": "y2"}}},
        {"data": {"name": "exp"}, "transform": [{"filter": "datum.p === 'f'"}],
         "mark": {"type": "point", "shape": "square", "filled": true, "color": "black", "opacity": 1, "size": 290},
         "encoding": {"x": {"field": "x", "type": "quantitative"}, "y": {"field": "y", "type": "quantitative"}}},
        {"data": {"name": "fit"}, "transform": [{"filter": "datum.p === 'f'"}],
         "mark": {"type": "line", "color": "red", "strokeWidth": 6, "interpolate": "monotone"},
         "encoding": {"x": {"field": "x", "type": "quantitative"}, "y": {"field": "y", "type": "quantitative"}}},
        {"data": {"name": "txt"}, "transform": [{"filter": "datum.p === 'f' && datum.k === 'tag'"}],
         "mark": {"type": "text", "align": "left", "baseline": "middle", "fontSize": 48, "fontWeight": "bold"},
         "encoding": {"x": {"field": "x", "type": "quantitative"}, "y": {"field": "y", "type": "quantitative"}, "text": {"field": "t"}}},
        {"data": {"name": "txt"}, "transform": [{"filter": "datum.p === 'f' && datum.k === 'head'"}],
         "mark": {"type": "text", "align": "left", "baseline": "middle", "fontSize": 39, "fontWeight": "normal"},
         "encoding": {"x": {"field": "x", "type": "quantitative"}, "y": {"field": "y", "type": "quantitative"}, "text": {"field": "t"}}},
        {"data": {"name": "txt"}, "transform": [{"filter": "datum.p === 'f' && datum.k === 'body'"}],
         "mark": {"type": "text", "align": "left", "baseline": "middle", "fontSize": 39, "fontWeight": "normal"},
         "encoding": {"x": {"field": "x", "type": "quantitative"}, "y": {"field": "y", "type": "quantitative"}, "text": {"field": "t"}}},
        {"data": {"name": "key"}, "transform": [{"filter": "datum.p === 'f'"}],
         "mark": {"type": "point", "shape": "square", "filled": true, "color": "black", "opacity": 1, "size": 200},
         "encoding": {"x": {"field": "x", "type": "quantitative"}, "y": {"field": "y", "type": "quantitative"}}},
        {"data": {"name": "keyline"}, "transform": [{"filter": "datum.p === 'f'"}],
         "mark": {"type": "rule", "color": "red", "strokeWidth": 6},
         "encoding": {"x": {"field": "x", "type": "quantitative"}, "x2": {"field": "x2"}, "y": {"field": "y", "type": "quantitative"}}}
      ]
    }
  ]
}
